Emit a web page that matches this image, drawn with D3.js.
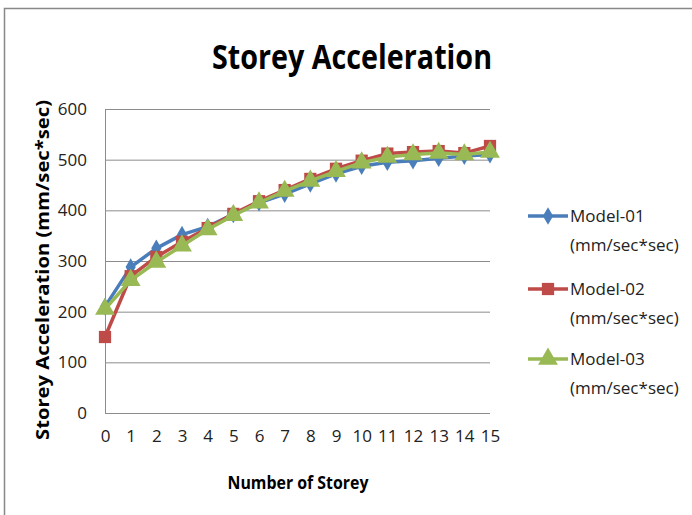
<!DOCTYPE html>
<html>
<head>
<meta charset="utf-8">
<script src="https://cdn.jsdelivr.net/npm/d3@7"></script>
<style>
  body { margin: 0; background: #fff; }
  text { font-family: "Open Sans", sans-serif; }
</style>
</head>
<body>
<div id="container"></div>
<script>
// Chart data
var storeys = [0, 1, 2, 3, 4, 5, 6, 7, 8, 9, 10, 11, 12, 13, 14, 15];
var model01 = [210, 288, 325, 352, 368, 392, 415, 432, 452, 472, 487, 495, 498, 503, 507, 510];
var model02 = [150, 270, 308, 338, 365, 393, 418, 440, 462, 482, 498, 512, 515, 517, 513, 527];
var model03 = [205, 262, 298, 330, 362, 390, 415, 438, 458, 477, 494, 505, 510, 513, 510, 515];
var seriesNames = ['Model-01', 'Model-02', 'Model-03'];
var yTicks = [0, 100, 200, 300, 400, 500, 600];

var width = 692,
height = 515;

var svg = d3.select('#container').append('svg').attr('width', width).attr('height', height);

// outer chart frame
svg.append('rect')
  .attr('x', 4.5).attr('y', 8.5)
  .attr('width', 700).attr('height', 520)
  .attr('fill', 'none').attr('stroke', '#888').attr('stroke-width', 1.5);

var x = d3.scalePoint().domain(storeys).range([105, 490]);
var y = d3.scaleLinear().domain([0, 600]).range([413, 109]);

// gridlines
svg.append('g').selectAll('line').data(yTicks).enter().append('line')
  .attr('x1', 105).attr('x2', 490)
  .attr('y1', d => y(d) + 0.5).attr('y2', d => y(d) + 0.5)
  .attr('stroke', '#8c8c8c').attr('stroke-width', 1);

// y axis line
svg.append('line').attr('x1', 105.5).attr('x2', 105.5).attr('y1', y(600)).attr('y2', y(0))
  .attr('stroke', '#8c8c8c');

// y axis labels
var yAxis = d3.axisLeft(y).tickValues(yTicks).tickSize(0).tickPadding(18);
svg.append('g').attr('transform', 'translate(105,0)').call(yAxis)
  .call(g => g.select('.domain').remove())
  .selectAll('text').attr('font-size', 17).attr('fill', '#222')
  .style('font-family', '"Open Sans", sans-serif');

// x axis labels
var xAxis = d3.axisBottom(x).tickSize(0).tickPadding(17);
svg.append('g').attr('transform', 'translate(0,' + y(0) + ')').call(xAxis)
  .call(g => g.select('.domain').remove())
  .selectAll('text').attr('font-size', 17).attr('fill', '#222')
  .style('font-family', '"Open Sans", sans-serif');

// titles
svg.append('text').attr('x', 352).attr('y', 69).attr('text-anchor', 'middle')
  .attr('font-size', 34).attr('font-weight', 'bold')
  .attr('textLength', 280).attr('lengthAdjust', 'spacingAndGlyphs')
  .text('Storey Acceleration');
svg.append('text').attr('x', 298).attr('y', 489).attr('text-anchor', 'middle')
  .attr('font-size', 17).attr('font-weight', 'bold')
  .attr('textLength', 141).attr('lengthAdjust', 'spacingAndGlyphs')
  .text('Number of Storey');
svg.append('text').attr('transform', 'translate(49,270) rotate(-90)').attr('text-anchor', 'middle')
  .attr('font-size', 18).attr('font-weight', 'bold')
  .attr('textLength', 340).attr('lengthAdjust', 'spacingAndGlyphs')
  .text('Storey Acceleration (mm/sec*sec)');

var colours = ['#4a7ebb', '#be4b48', '#98b954'];
var symbols = [d3.symbolDiamond, d3.symbolSquare, d3.symbolTriangle];
var symSizes = [90, 150, 170];
var allSeries = [model01, model02, model03];

var line = d3.line().x((d, i) => x(storeys[i])).y(d => y(d));

allSeries.forEach(function (vals, k) {
  var g = svg.append('g');
  g.append('path').datum(vals)
    .attr('d', line).attr('fill', 'none')
    .attr('stroke', colours[k]).attr('stroke-width', 3.5).attr('stroke-linejoin', 'round');
  g.selectAll('path.mark').data(vals).enter().append('path')
    .attr('class', 'mark')
    .attr('transform', (d, i) => 'translate(' + x(storeys[i]) + ',' + y(d) + ')')
    .attr('d', d3.symbol().type(symbols[k]).size(symSizes[k]))
    .attr('fill', colours[k]);
});

// legend
var legendY = [216, 289, 359];
var legend = svg.append('g').attr('id', 'legend');
seriesNames.forEach(function (name, k) {
  var g = legend.append('g').attr('transform', 'translate(0,' + legendY[k] + ')');
  g.append('line').attr('x1', 528).attr('x2', 568).attr('y1', 0).attr('y2', 0)
    .attr('stroke', colours[k]).attr('stroke-width', 3.5);
  g.append('path').attr('transform', 'translate(548,0)')
    .attr('d', d3.symbol().type(symbols[k]).size(symSizes[k]))
    .attr('fill', colours[k]);
  g.append('text').attr('x', 570).attr('y', 6).attr('font-size', 17).attr('fill', '#222').text(name);
  g.append('text').attr('x', 570).attr('y', 35).attr('font-size', 17).attr('fill', '#222').text('(mm/sec*sec)');
});
</script>
</body>
</html>
